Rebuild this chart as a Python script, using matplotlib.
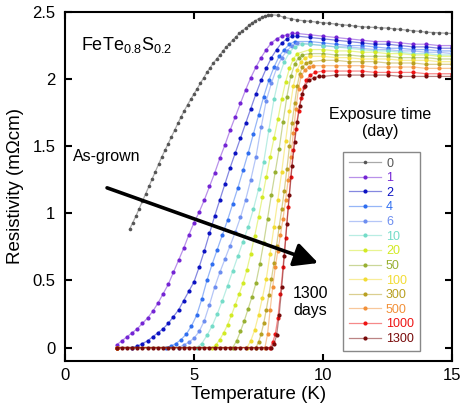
import matplotlib
matplotlib.use("Agg")
import matplotlib.pyplot as plt
from matplotlib.colors import to_rgba

plt.rcParams["font.family"] = ["Liberation Sans", "DejaVu Sans"]
plt.rcParams["mathtext.fontset"] = "custom"
plt.rcParams["mathtext.rm"] = "Liberation Sans"

# exposure time labels (days) and colours
days = ["0", "1", "2", "4", "6", "10", "20", "50", "100", "300", "500", "1000", "1300"]
colors = ["#555555", "#7424d4", "#0c12c2", "#2f6ef0", "#6d8ef0", "#74dcc8", "#d2ea24",
          "#98b032", "#f2dc34", "#b8a022", "#f29038", "#ee1414", "#780a0a"]

# (temperature K, resistivity mOhm cm)
day0 = [(2.5, 0.88), (2.625, 0.93), (2.75, 0.98), (2.875, 1.035), (3.0, 1.09), (3.125, 1.145),
        (3.25, 1.20), (3.375, 1.255), (3.5, 1.31), (3.625, 1.365), (3.75, 1.42), (3.875, 1.47),
        (4.0, 1.52), (4.125, 1.57), (4.25, 1.62), (4.375, 1.67), (4.5, 1.72), (4.625, 1.765),
        (4.75, 1.81), (4.875, 1.85), (5.0, 1.89), (5.125, 1.93), (5.25, 1.97), (5.375, 2.01),
        (5.5, 2.05), (5.625, 2.085), (5.75, 2.12), (5.875, 2.15), (6.0, 2.18), (6.125, 2.21),
        (6.25, 2.24), (6.375, 2.265), (6.5, 2.29), (6.625, 2.315), (6.75, 2.34), (6.875, 2.36),
        (7.0, 2.38), (7.125, 2.40), (7.25, 2.42), (7.375, 2.435), (7.5, 2.45), (7.625, 2.46),
        (7.75, 2.47), (7.875, 2.475), (8.0, 2.48), (8.25, 2.475), (8.5, 2.46), (8.75, 2.45),
        (9.0, 2.44), (9.25, 2.435), (9.5, 2.43), (9.75, 2.425), (10, 2.42), (10.25, 2.415),
        (10.5, 2.41), (10.75, 2.405), (11, 2.40), (11.25, 2.395), (11.5, 2.39), (11.75, 2.387),
        (12, 2.385), (12.25, 2.382), (12.5, 2.38), (12.75, 2.375), (13, 2.37), (13.25, 2.365),
        (13.5, 2.36), (13.75, 2.355), (14, 2.35), (14.25, 2.347), (14.5, 2.345), (14.75, 2.342),
        (15, 2.34)]
day1 = [(2.0, 0.02), (2.2, 0.05), (2.4, 0.08), (2.6, 0.11), (2.8, 0.14), (3.0, 0.18), (3.2, 0.22),
        (3.4, 0.27), (3.6, 0.33), (3.8, 0.40), (4.0, 0.47), (4.2, 0.56), (4.4, 0.65), (4.6, 0.74),
        (4.8, 0.84), (5.0, 0.93), (5.2, 1.01), (5.4, 1.10), (5.6, 1.20), (5.8, 1.30), (6.0, 1.41),
        (6.2, 1.51), (6.4, 1.62), (6.6, 1.72), (6.8, 1.82), (7.0, 1.92), (7.2, 2.01), (7.4, 2.09),
        (7.6, 2.16), (7.8, 2.22), (8.0, 2.27), (8.2, 2.30), (8.4, 2.32), (8.6, 2.33), (8.8, 2.34),
        (9.0, 2.34), (9.5, 2.33), (10, 2.32), (10.5, 2.31), (11, 2.30), (11.5, 2.29), (12, 2.28),
        (12.5, 2.28), (13, 2.27), (13.5, 2.26), (14, 2.26), (14.5, 2.25), (15, 2.25)]
day2 = [(2.0, 0.0), (2.6, 0.0), (2.8, 0.01), (3.0, 0.03), (3.2, 0.05), (3.4, 0.08), (3.6, 0.11),
        (3.8, 0.14), (4.0, 0.18), (4.2, 0.23), (4.4, 0.28), (4.6, 0.35), (4.8, 0.42), (5.0, 0.49),
        (5.2, 0.60), (5.4, 0.72), (5.6, 0.85), (5.8, 0.98), (6.0, 1.10), (6.2, 1.22), (6.4, 1.34),
        (6.6, 1.45), (6.8, 1.56), (7.0, 1.67), (7.2, 1.78), (7.4, 1.89), (7.6, 1.99), (7.8, 2.08),
        (8.0, 2.16), (8.2, 2.22), (8.4, 2.27), (8.6, 2.30), (8.8, 2.32), (9.0, 2.32), (9.5, 2.31),
        (10, 2.30), (10.5, 2.29), (11, 2.28), (11.5, 2.27), (12, 2.26), (12.5, 2.26), (13, 2.25),
        (13.5, 2.24), (14, 2.24), (14.5, 2.23), (15, 2.23)]
day4 = [(2.0, 0.0), (3.9, 0.0), (4.1, 0.01), (4.3, 0.03), (4.5, 0.06), (4.7, 0.10), (4.9, 0.16),
        (5.1, 0.24), (5.3, 0.36), (5.5, 0.50), (5.7, 0.62), (5.9, 0.73), (6.1, 0.84), (6.3, 0.95),
        (6.5, 1.07), (6.7, 1.19), (6.9, 1.32), (7.1, 1.45), (7.3, 1.59), (7.5, 1.73), (7.7, 1.87),
        (7.9, 1.99), (8.1, 2.09), (8.3, 2.17), (8.5, 2.22), (8.7, 2.26), (8.9, 2.28), (9.5, 2.28),
        (10, 2.27), (10.5, 2.26), (11, 2.25), (11.5, 2.25), (12, 2.24), (12.5, 2.23), (13, 2.23),
        (13.5, 2.22), (14, 2.22), (14.5, 2.21), (15, 2.21)]
day6 = [(2.0, 0.0), (4.4, 0.0), (4.6, 0.02), (4.8, 0.04), (5.0, 0.07), (5.2, 0.12), (5.4, 0.20),
        (5.6, 0.32), (5.8, 0.45), (6.0, 0.56), (6.2, 0.66), (6.4, 0.76), (6.6, 0.86), (6.8, 0.97),
        (7.0, 1.10), (7.2, 1.25), (7.4, 1.42), (7.6, 1.64), (7.8, 1.84), (8.0, 1.97), (8.2, 2.08),
        (8.4, 2.16), (8.6, 2.21), (8.8, 2.25), (9.0, 2.27), (9.5, 2.26), (10, 2.25), (10.5, 2.24),
        (11, 2.24), (11.5, 2.23), (12, 2.22), (12.5, 2.22), (13, 2.21), (13.5, 2.21), (14, 2.20),
        (14.5, 2.20), (15, 2.19)]
day10 = [(2.0, 0.0), (5.1, 0.0), (5.3, 0.03), (5.5, 0.09), (5.7, 0.16), (5.9, 0.25), (6.1, 0.35),
         (6.3, 0.46), (6.5, 0.57), (6.7, 0.68), (6.9, 0.79), (7.1, 0.90), (7.3, 1.03), (7.5, 1.18),
         (7.7, 1.38), (7.9, 1.62), (8.1, 1.85), (8.3, 2.02), (8.5, 2.13), (8.7, 2.20), (8.9, 2.24),
         (9.2, 2.26), (9.5, 2.26), (10, 2.25), (10.5, 2.24), (11, 2.23), (11.5, 2.22), (12, 2.21),
         (12.5, 2.21), (13, 2.20), (13.5, 2.19), (14, 2.19), (14.5, 2.18), (15, 2.18)]
day20 = [(2.0, 0.0), (5.7, 0.0), (5.85, 0.02), (6.0, 0.06), (6.15, 0.11), (6.3, 0.17), (6.45, 0.24),
         (6.6, 0.32), (6.75, 0.40), (6.9, 0.48), (7.05, 0.58), (7.2, 0.70), (7.35, 0.83), (7.5, 0.97),
         (7.65, 1.12), (7.8, 1.27), (7.95, 1.42), (8.1, 1.56), (8.25, 1.70), (8.4, 1.85), (8.55, 1.98),
         (8.7, 2.08), (8.85, 2.15), (9.0, 2.19), (9.5, 2.22), (10, 2.22), (10.5, 2.21), (11, 2.21),
         (11.5, 2.20), (12, 2.20), (12.5, 2.19), (13, 2.19), (13.5, 2.18), (14, 2.18), (14.5, 2.17),
         (15, 2.17)]
day50 = [(2.0, 0.0), (6.5, 0.0), (6.65, 0.05), (6.8, 0.12), (6.95, 0.20), (7.1, 0.29), (7.25, 0.38),
         (7.4, 0.48), (7.55, 0.62), (7.7, 0.78), (7.85, 0.96), (8.0, 1.14), (8.15, 1.31), (8.3, 1.48),
         (8.45, 1.68), (8.6, 1.87), (8.75, 2.02), (8.9, 2.11), (9.05, 2.16), (9.2, 2.18), (9.5, 2.19),
         (10, 2.19), (10.5, 2.18), (11, 2.18), (11.5, 2.17), (12, 2.17), (12.5, 2.17), (13, 2.16),
         (13.5, 2.16), (14, 2.16), (14.5, 2.15), (15, 2.15)]
day100 = [(2.0, 0.0), (7.05, 0.0), (7.2, 0.05), (7.35, 0.13), (7.5, 0.24), (7.65, 0.37), (7.8, 0.51),
          (7.95, 0.70), (8.1, 0.90), (8.25, 1.10), (8.4, 1.31), (8.55, 1.54), (8.7, 1.76), (8.85, 1.95),
          (9.0, 2.07), (9.15, 2.13), (9.3, 2.16), (9.5, 2.17), (10, 2.17), (10.5, 2.16), (11, 2.16),
          (11.5, 2.15), (12, 2.15), (12.5, 2.15), (13, 2.14), (13.5, 2.14), (14, 2.14), (14.5, 2.13),
          (15, 2.13)]
day300 = [(2.0, 0.0), (7.4, 0.0), (7.5, 0.04), (7.6, 0.10), (7.7, 0.18), (7.8, 0.28), (7.9, 0.39),
          (8.0, 0.51), (8.1, 0.63), (8.2, 0.76), (8.3, 0.90), (8.4, 1.03), (8.5, 1.17), (8.6, 1.33),
          (8.7, 1.50), (8.8, 1.67), (8.9, 1.82), (9.0, 1.95), (9.1, 2.04), (9.2, 2.09), (9.35, 2.12),
          (9.5, 2.13), (10, 2.14), (10.5, 2.14), (11, 2.13), (11.5, 2.13), (12, 2.13), (12.5, 2.12),
          (13, 2.12), (13.5, 2.12), (14, 2.11), (14.5, 2.11), (15, 2.11)]
day500 = [(2.0, 0.0), (7.75, 0.0), (7.85, 0.10), (7.95, 0.28), (8.05, 0.45), (8.15, 0.60), (8.25, 0.72),
          (8.35, 0.84), (8.45, 0.96), (8.55, 1.10), (8.65, 1.25), (8.75, 1.42), (8.85, 1.60), (8.95, 1.78),
          (9.05, 1.93), (9.15, 2.02), (9.3, 2.07), (9.45, 2.09), (9.6, 2.10), (10, 2.10), (10.5, 2.10),
          (11, 2.10), (11.5, 2.10), (12, 2.09), (12.5, 2.09), (13, 2.09), (13.5, 2.09), (14, 2.08),
          (14.5, 2.08), (15, 2.08)]
day1000 = [(2.0, 0.0), (7.95, 0.0), (8.05, 0.04), (8.15, 0.10), (8.25, 0.22), (8.35, 0.40), (8.45, 0.60),
           (8.55, 0.82), (8.65, 1.05), (8.75, 1.27), (8.85, 1.47), (8.95, 1.63), (9.05, 1.76), (9.15, 1.86),
           (9.25, 1.94), (9.35, 1.99), (9.5, 2.03), (9.7, 2.05), (10, 2.06), (10.5, 2.06), (11, 2.06),
           (11.5, 2.06), (12, 2.05), (12.5, 2.05), (13, 2.05), (13.5, 2.05), (14, 2.04), (14.5, 2.04),
           (15, 2.04)]
day1300 = [(2.0, 0.0), (2.2, 0.0), (2.4, 0.0), (2.6, 0.0), (2.8, 0.0), (3.0, 0.0), (3.2, 0.0), (3.4, 0.0),
           (3.6, 0.0), (3.8, 0.0), (4.0, 0.0), (4.2, 0.0), (4.4, 0.0), (4.6, 0.0), (4.8, 0.0), (5.0, 0.0),
           (5.2, 0.0), (5.4, 0.0), (5.6, 0.0), (5.8, 0.0), (6.0, 0.0), (6.2, 0.0), (6.4, 0.0), (6.6, 0.0),
           (6.8, 0.0), (7.0, 0.0), (7.2, 0.0), (7.4, 0.0), (7.6, 0.0), (7.8, 0.0), (8.0, 0.0), (8.1, 0.03),
           (8.2, 0.09), (8.3, 0.24), (8.4, 0.45), (8.5, 0.68), (8.6, 0.92), (8.7, 1.14), (8.8, 1.35),
           (8.9, 1.53), (9.0, 1.68), (9.1, 1.80), (9.2, 1.89), (9.3, 1.95), (9.45, 1.99), (9.65, 2.01),
           (9.85, 2.02), (10, 2.02), (10.5, 2.03), (11, 2.03), (11.5, 2.03), (12, 2.03), (12.5, 2.03),
           (13, 2.02), (13.5, 2.02), (14, 2.02), (14.5, 2.02), (15, 2.02)]

curves = [day0, day1, day2, day4, day6, day10, day20, day50, day100, day300, day500, day1000, day1300]

x_ticks = [0, 5, 10, 15]
y_ticks = [0, 0.5, 1, 1.5, 2, 2.5]
y_tick_labels = ["0", "0.5", "1", "1.5", "2", "2.5"]

fig = plt.figure(figsize=(4.62, 4.08), dpi=100)
ax = fig.add_axes([0.1407, 0.1152, 0.8377, 0.8554])

for label, col, pts in zip(days, colors, curves):
    T, R = zip(*pts)
    ms = 2.6 if label == "0" else 3.0
    ax.plot(T, R, "-o", color=to_rgba(col, 0.5), lw=0.9, ms=ms,
            mfc=col, mec=col, mew=0, label=label)

ax.set_xlim(0, 15)
ax.set_ylim(-0.1, 2.5)
ax.set_xticks(x_ticks, [str(t) for t in x_ticks])
ax.set_yticks(y_ticks, y_tick_labels)
ax.tick_params(direction="in", top=True, right=True, length=5, width=1.5, labelsize=12)
ax.tick_params(axis="x", pad=5)
ax.tick_params(axis="y", pad=7)
for s in ax.spines.values():
    s.set_linewidth(1.5)

ax.set_xlabel("Temperature (K)", fontsize=13.5, labelpad=2)
ax.set_ylabel("Resistivity (m\u03a9cm)", fontsize=13.5, labelpad=6)

leg = ax.legend(loc="upper left", bbox_to_anchor=(0.718, 0.599), fontsize=9, fancybox=False,
                edgecolor="#888888", framealpha=1, handlelength=2.6, handletextpad=0.4,
                labelspacing=0.21, borderpad=0.45, borderaxespad=0, numpoints=1)
leg.get_frame().set_linewidth(1.0)
for txt, col in zip(leg.get_texts(), colors):
    txt.set_color(col)

ax.text(0.62, 2.22, r"FeTe$_{0.8}$S$_{0.2}$", fontsize=13, va="baseline")
ax.text(12.2, 1.675, "Exposure time\n(day)", fontsize=11.5, ha="center", va="center", multialignment="center")
ax.text(1.63, 1.42, "As-grown", fontsize=11.5, ha="center", va="center")
ax.text(9.5, 0.34, "1300\ndays", fontsize=11.5, ha="center", va="center", multialignment="center")
ax.annotate("", xy=(9.81, 0.63), xytext=(1.63, 1.19),
            arrowprops=dict(arrowstyle="-|>,head_length=0.72,head_width=0.36", lw=2.6,
                            color="black", mutation_scale=20, shrinkA=0, shrinkB=0))

fig.savefig("out.png", dpi=100)
